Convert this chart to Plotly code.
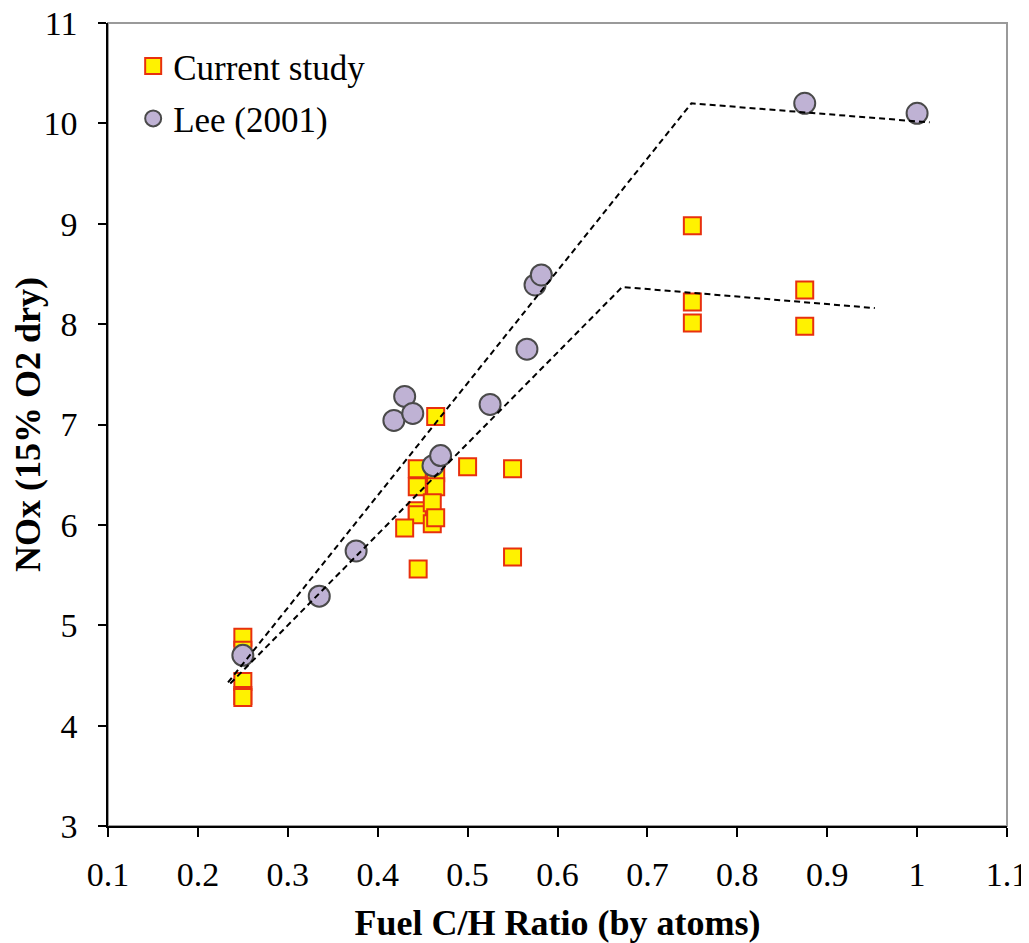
import plotly.graph_objects as go

# Current study (squares)
cur_x = [0.25, 0.25, 0.25, 0.25, 0.25,
         0.4645, 0.444, 0.444, 0.444, 0.444, 0.4645, 0.4645, 0.4607, 0.4607, 0.4645,
         0.43, 0.445, 0.50, 0.55, 0.55,
         0.75, 0.75, 0.75, 0.875, 0.875]
cur_y = [4.88, 4.75, 4.44, 4.30, 4.28,
         7.08, 6.56, 6.38, 6.14, 6.10, 6.52, 6.38, 6.22, 6.01, 6.07,
         5.97, 5.56, 6.58, 6.56, 5.68,
         8.98, 8.22, 8.01, 8.34, 7.98]

# Lee (2001) (circles)
lee_x = [0.25, 0.335, 0.376, 0.418, 0.430, 0.439, 0.4615, 0.470, 0.525, 0.566, 0.575, 0.582, 0.875, 1.0]
lee_y = [4.70, 5.29, 5.74, 7.04, 7.28, 7.11, 6.59, 6.69, 7.20, 7.75, 8.39, 8.49, 10.20, 10.10]

# Piecewise trend lines
trend_lee_x = [0.2335, 0.749, 1.014]
trend_lee_y = [4.43, 10.20, 10.01]
trend_cur_x = [0.236, 0.672, 0.953]
trend_cur_y = [4.42, 8.37, 8.16]

x_ticks = [0.1, 0.2, 0.3, 0.4, 0.5, 0.6, 0.7, 0.8, 0.9, 1.0, 1.1]
x_tick_text = ["0.1", "0.2", "0.3", "0.4", "0.5", "0.6", "0.7", "0.8", "0.9", "1", "1.1"]

FONT = "Liberation Serif"

fig = go.Figure()
fig.add_trace(go.Scatter(
    x=cur_x, y=cur_y, mode="markers", name="Current study", legendgroup="a",
    marker=dict(symbol="square", size=17, color="#FFF200",
                line=dict(color="#E8300E", width=2))))
fig.add_trace(go.Scatter(
    x=lee_x, y=lee_y, mode="markers", name="Lee (2001)", legendgroup="b",
    marker=dict(symbol="circle", size=21, color="#BFB2D4",
                line=dict(color="#4A4A4A", width=2))))
for tx, ty in [(trend_lee_x, trend_lee_y), (trend_cur_x, trend_cur_y)]:
    fig.add_trace(go.Scatter(
        x=tx, y=ty, mode="lines", showlegend=False, hoverinfo="skip",
        line=dict(color="black", width=2, dash="6px,4px")))

# page has an 8px body margin, so the figure is sized to fit the window
fig.update_layout(
    width=1021, height=935,
    paper_bgcolor="white", plot_bgcolor="white",
    margin=dict(l=100, r=22, t=15, b=117),
    font=dict(family=FONT, color="black", size=34),
    legend=dict(x=0.028, y=0.983, xanchor="left", yanchor="top",
                bgcolor="rgba(0,0,0,0)", font=dict(family=FONT, size=35),
                tracegroupgap=4),
    xaxis=dict(range=[0.1, 1.1], tickvals=x_ticks, ticktext=x_tick_text,
               showgrid=False, zeroline=False, ticks="outside", ticklen=9,
               tickcolor="black", tickwidth=1.5, showline=True, linecolor="black", linewidth=1.5,
               automargin=False, ticklabelstandoff=8, ticklabeloverflow="allow",
               tickfont=dict(size=34),
               title=dict(text="<b>Fuel C/H Ratio (by atoms)</b>", font=dict(size=36), standoff=30)),
    yaxis=dict(range=[3, 11], dtick=1, showgrid=False, zeroline=False, ticks="outside",
               ticklen=8, tickcolor="black", tickwidth=1.5, showline=True, linecolor="black",
               linewidth=1.5, automargin=False, ticklabelstandoff=14, ticklabeloverflow="allow",
               tickfont=dict(size=34),
               title=dict(text="<b>NOx (15% O2 dry)</b>", font=dict(size=36), standoff=5)),
)
# gray plot-area frame (left/bottom covered by the black axis lines)
fig.add_shape(type="rect", xref="paper", yref="paper", x0=0, x1=1, y0=0, y1=1,
              line=dict(color="#9A9A9A", width=2), fillcolor="rgba(0,0,0,0)", layer="below")

fig.write_html("out.html")
